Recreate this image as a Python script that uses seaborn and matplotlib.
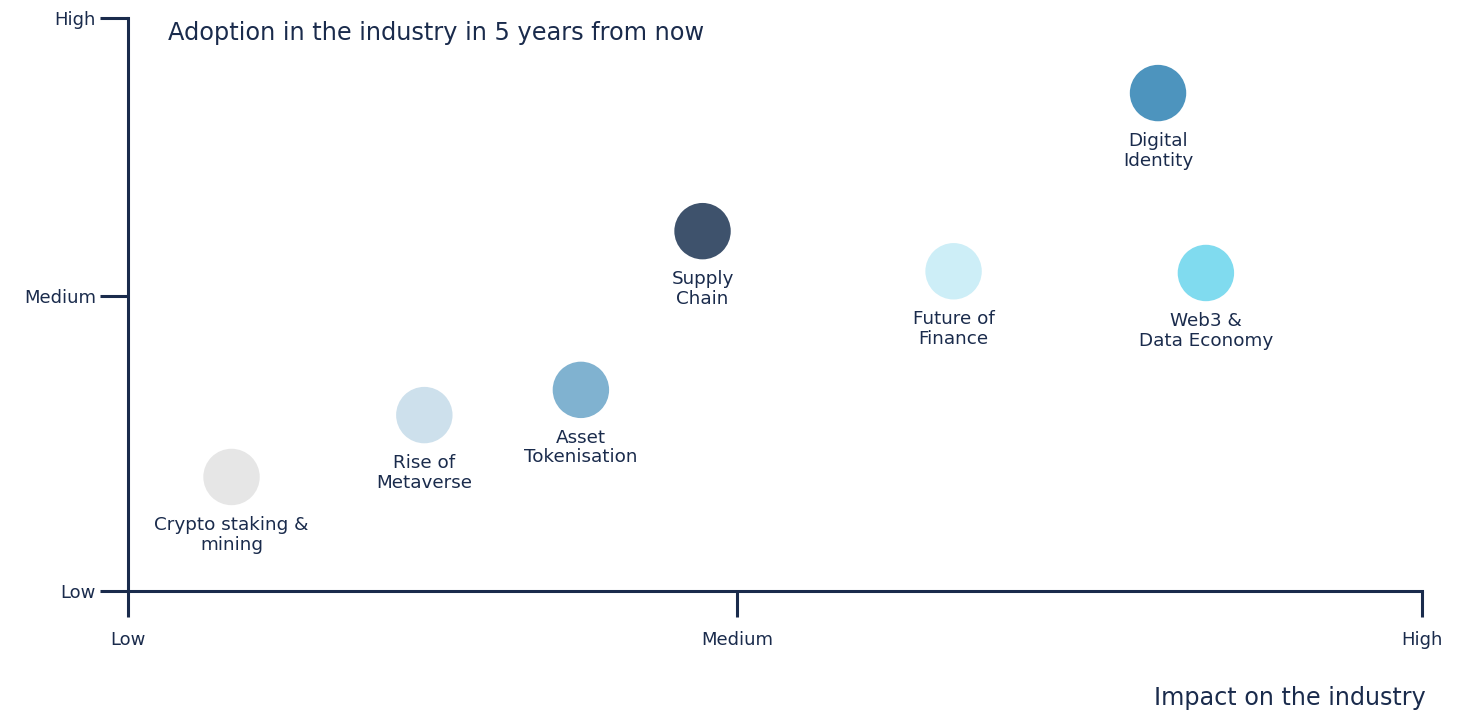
import matplotlib
matplotlib.use("Agg")
import matplotlib.pyplot as plt
import seaborn as sns
import pandas as pd

# trends, position on the impact (x) / adoption (y) grid, 0-100 scale
trends = ["Crypto staking &\nmining", "Rise of\nMetaverse", "Asset\nTokenisation",
          "Supply\nChain", "Future of\nFinance", "Digital\nIdentity",
          "Web3 &\nData Economy"]
impact = [8.0, 22.9, 35.0, 44.4, 63.8, 79.6, 83.3]
adoption = [19.9, 30.7, 35.1, 62.8, 55.8, 86.9, 55.5]
colors = ["#e6e6e6", "#cde0ec", "#80b2d0", "#3e526c", "#cdeef7", "#4d94be", "#80dbef"]

tick_names = ["Low", "Medium", "High"]
x_ticks = [0, 47.1, 100]
y_ticks = [0, 51.5, 100]

navy = "#1a2b4c"

sns.set_theme(style="white")
plt.rcParams["font.family"] = ["DejaVu Sans"]

df = pd.DataFrame({"trend": trends, "impact": impact, "adoption": adoption})

fig = plt.figure(figsize=(14.76, 7.14), dpi=100)
ax = fig.add_axes([128 / 1476, 123 / 714, 1294 / 1476, 573 / 714])

sns.scatterplot(data=df, x="impact", y="adoption", hue="trend", palette=colors,
                s=1650, linewidth=0, legend=False, ax=ax, clip_on=False)

for t, xi, yi in zip(trends, impact, adoption):
    ax.annotate(t, (xi, yi), xytext=(0, -28), textcoords="offset points",
                ha="center", va="top", fontsize=13.2, color=navy, linespacing=1.12)

ax.set_xlim(0, 100)
ax.set_ylim(0, 100)
ax.set_xticks(x_ticks)
ax.set_xticklabels(tick_names)
ax.set_yticks(y_ticks)
ax.set_yticklabels(tick_names)
ax.set_xlabel("")
ax.set_ylabel("")

for side in ["top", "right"]:
    ax.spines[side].set_visible(False)
for side in ["left", "bottom"]:
    ax.spines[side].set_color(navy)
    ax.spines[side].set_linewidth(2.2)

ax.tick_params(axis="x", direction="out", length=19, width=2.2, color=navy,
               labelcolor=navy, labelsize=13, pad=10, bottom=True)
ax.tick_params(axis="y", direction="out", length=20, width=2.2, color=navy,
               labelcolor=navy, labelsize=13, pad=3, left=True)

fig.text(168 / 1476, 1 - 33 / 714, "Adoption in the industry in 5 years from now",
         ha="left", va="center", fontsize=17.3, color=navy)
fig.text(1426 / 1476, 1 - 698 / 714, "Impact on the industry",
         ha="right", va="center", fontsize=17.2, color=navy)

fig.savefig("out.png", dpi=100)
